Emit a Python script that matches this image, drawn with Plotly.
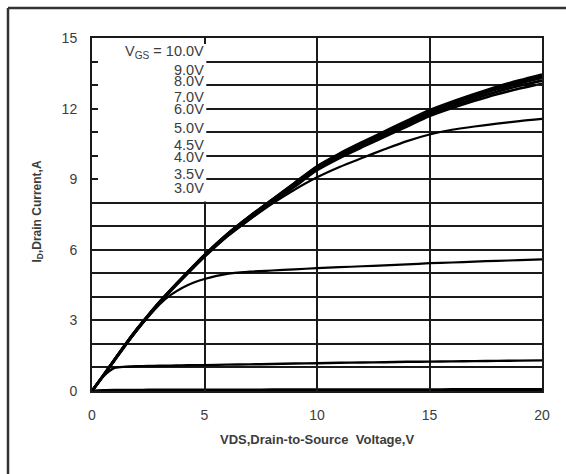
import plotly.graph_objects as go

# Drain-to-source voltage samples (V)
vds = [0, 0.5, 1, 1.5, 2, 2.5, 3, 3.5, 4, 4.5, 5, 6, 7, 8, 9, 10,
       11, 12, 13, 14, 15, 16, 17, 18, 19, 20]

# Drain current (A) for each gate-source voltage
id_10v = [0, 0.66, 1.34, 2.01, 2.64, 3.23, 3.79, 4.31, 4.81, 5.3, 5.78, 6.66, 7.42, 8.13,
          8.84, 9.55, 10.09, 10.57, 11.03, 11.49, 11.93, 12.29, 12.62, 12.93, 13.2, 13.45]
id_9v = [0, 0.66, 1.33, 2.0, 2.63, 3.22, 3.78, 4.3, 4.8, 5.29, 5.78, 6.65, 7.41, 8.12,
         8.82, 9.53, 10.06, 10.54, 11.0, 11.45, 11.89, 12.24, 12.57, 12.87, 13.13, 13.38]
id_8v = [0, 0.66, 1.33, 2.0, 2.63, 3.22, 3.78, 4.3, 4.8, 5.29, 5.77, 6.64, 7.39, 8.1,
         8.8, 9.5, 10.03, 10.5, 10.95, 11.4, 11.85, 12.2, 12.52, 12.82, 13.07, 13.3]
id_7v = [0, 0.65, 1.32, 1.98, 2.61, 3.2, 3.76, 4.28, 4.78, 5.26, 5.74, 6.61, 7.35, 8.06,
         8.75, 9.45, 9.97, 10.43, 10.88, 11.32, 11.77, 12.11, 12.43, 12.72, 12.97, 13.19]
id_6v = [0, 0.64, 1.3, 1.96, 2.59, 3.18, 3.74, 4.26, 4.75, 5.23, 5.7, 6.56, 7.3, 8.0,
         8.68, 9.38, 9.9, 10.36, 10.8, 11.24, 11.68, 12.02, 12.33, 12.61, 12.85, 13.06]
id_5v = [0, 0.65, 1.31, 1.97, 2.6, 3.19, 3.75, 4.27, 4.77, 5.25, 5.72, 6.57, 7.28, 7.95,
         8.55, 9.08, 9.52, 9.9, 10.27, 10.62, 10.9, 11.1, 11.24, 11.36, 11.47, 11.56]
id_4v5 = [0, 0.65, 1.3, 1.96, 2.58, 3.15, 3.68, 4.08, 4.38, 4.6, 4.76, 4.98, 5.07, 5.12,
          5.17, 5.22, 5.26, 5.3, 5.34, 5.38, 5.43, 5.46, 5.5, 5.53, 5.56, 5.59]
id_4v = [0, 0.62, 0.98, 1.03, 1.05, 1.06, 1.07, 1.08, 1.09, 1.1, 1.1, 1.12, 1.13, 1.15,
         1.17, 1.18, 1.2, 1.21, 1.22, 1.24, 1.25, 1.26, 1.27, 1.28, 1.29, 1.3]
id_3v5 = [0, 0.03, 0.04, 0.04, 0.04, 0.05, 0.05, 0.05, 0.05, 0.05, 0.05, 0.05, 0.05, 0.06,
          0.06, 0.06, 0.06, 0.06, 0.06, 0.06, 0.06, 0.07, 0.07, 0.07, 0.07, 0.07]
id_3v = [0, 0.01, 0.01, 0.01, 0.01, 0.01, 0.01, 0.01, 0.01, 0.01, 0.01, 0.01, 0.01, 0.01,
         0.01, 0.01, 0.01, 0.01, 0.01, 0.01, 0.02, 0.02, 0.02, 0.02, 0.02, 0.02]

curves = [id_10v, id_9v, id_8v, id_7v, id_6v, id_5v, id_4v5, id_4v, id_3v5, id_3v]
curve_names = ["10.0V", "9.0V", "8.0V", "7.0V", "6.0V", "5.0V", "4.5V", "4.0V", "3.5V", "3.0V"]
curve_widths = [2.6, 2.6, 2.6, 2.6, 2.6, 2.2, 2.2, 2.4, 2.6, 2.6]

# Gate-voltage labels and their vertical positions (A)
vgs_labels = ["V<sub>GS</sub> = 10.0V", "9.0V", "8.0V", "7.0V", "6.0V",
              "5.0V", "4.5V", "4.0V", "3.5V", "3.0V"]
vgs_label_y = [14.42, 13.66, 13.19, 12.48, 11.97, 11.19, 10.45, 9.93, 9.22, 8.61]

x_ticks = [0, 5, 10, 15, 20]
y_ticks = [0, 3, 6, 9, 12, 15]

fig = go.Figure()
for name, cur, w in zip(curve_names, curves, curve_widths):
    fig.add_trace(go.Scatter(
        x=vds, y=cur, mode="lines", name=name,
        line=dict(color="#000000", width=w, shape="spline", smoothing=0.8),
        showlegend=False, hoverinfo="skip",
    ))

tick_font = dict(family="Liberation Sans, Arial, sans-serif", size=14, color="#3c3c3c")
label_font = dict(family="Liberation Sans, Arial, sans-serif", size=14.5, color="#3c3c3c")

# Gate-voltage label column
for txt, yv in zip(vgs_labels, vgs_label_y):
    fig.add_annotation(x=5.0, y=yv, xref="x", yref="y", text=txt, showarrow=False,
                       xanchor="right", yanchor="middle", font=label_font,
                       borderpad=0)

# White panel behind the label column (hides the grid there)
fig.add_shape(type="rect", xref="x", yref="y", x0=0, x1=5.08, y0=8.05, y1=15,
              fillcolor="white", line=dict(width=0), layer="between")

# Frame lines around the figure (left and top)
fig.add_shape(type="line", xref="paper", yref="paper",
              x0=(8 - 92) / 450, x1=(8 - 92) / 450, y0=(391 - 8) / 353, y1=(391 - 480) / 353,
              line=dict(color="#333333", width=2.5))
fig.add_shape(type="line", xref="paper", yref="paper",
              x0=(8 - 92) / 450, x1=(570 - 92) / 450, y0=(391 - 8) / 353, y1=(391 - 8) / 353,
              line=dict(color="#333333", width=2.5))

# Axis titles
fig.add_annotation(x=0.5, y=(391 - 440) / 353, xref="paper", yref="paper",
                   text="<b>VDS,Drain-to-Source  Voltage,V</b>", showarrow=False,
                   xanchor="center", yanchor="middle",
                   font=dict(family="Liberation Sans, Arial, sans-serif", size=13, color="#3c3c3c"))
fig.add_annotation(x=(37.5 - 92) / 450, y=(391 - 212) / 353, xref="paper", yref="paper",
                   text="<b>I<sub>D</sub>,Drain Current,A</b>", showarrow=False, textangle=-90,
                   xanchor="center", yanchor="middle",
                   font=dict(family="Liberation Sans, Arial, sans-serif", size=12, color="#3c3c3c"))

axis_common = dict(
    showgrid=True, gridcolor="#1a1a1a", gridwidth=2,
    showline=True, linecolor="#1a1a1a", linewidth=2, mirror="ticks",
    ticks="inside", ticklen=6, tickwidth=2, tickcolor="#1a1a1a",
    zeroline=False, tickfont=tick_font, ticklabelstandoff=10,
)
fig.update_xaxes(range=[0, 20], tickvals=x_ticks, **axis_common)
fig.update_yaxes(range=[0, 15], tickvals=y_ticks,
                 minor=dict(dtick=1, ticks="inside", ticklen=6, tickwidth=2,
                            tickcolor="#1a1a1a", showgrid=True,
                            gridcolor="#1a1a1a", gridwidth=2),
                 **axis_common)

fig.update_layout(
    width=566, height=474,
    margin=dict(l=92, r=24, t=38, b=83, autoexpand=False),
    paper_bgcolor="white", plot_bgcolor="white",
    showlegend=False,
)

fig.write_html("out.html")
